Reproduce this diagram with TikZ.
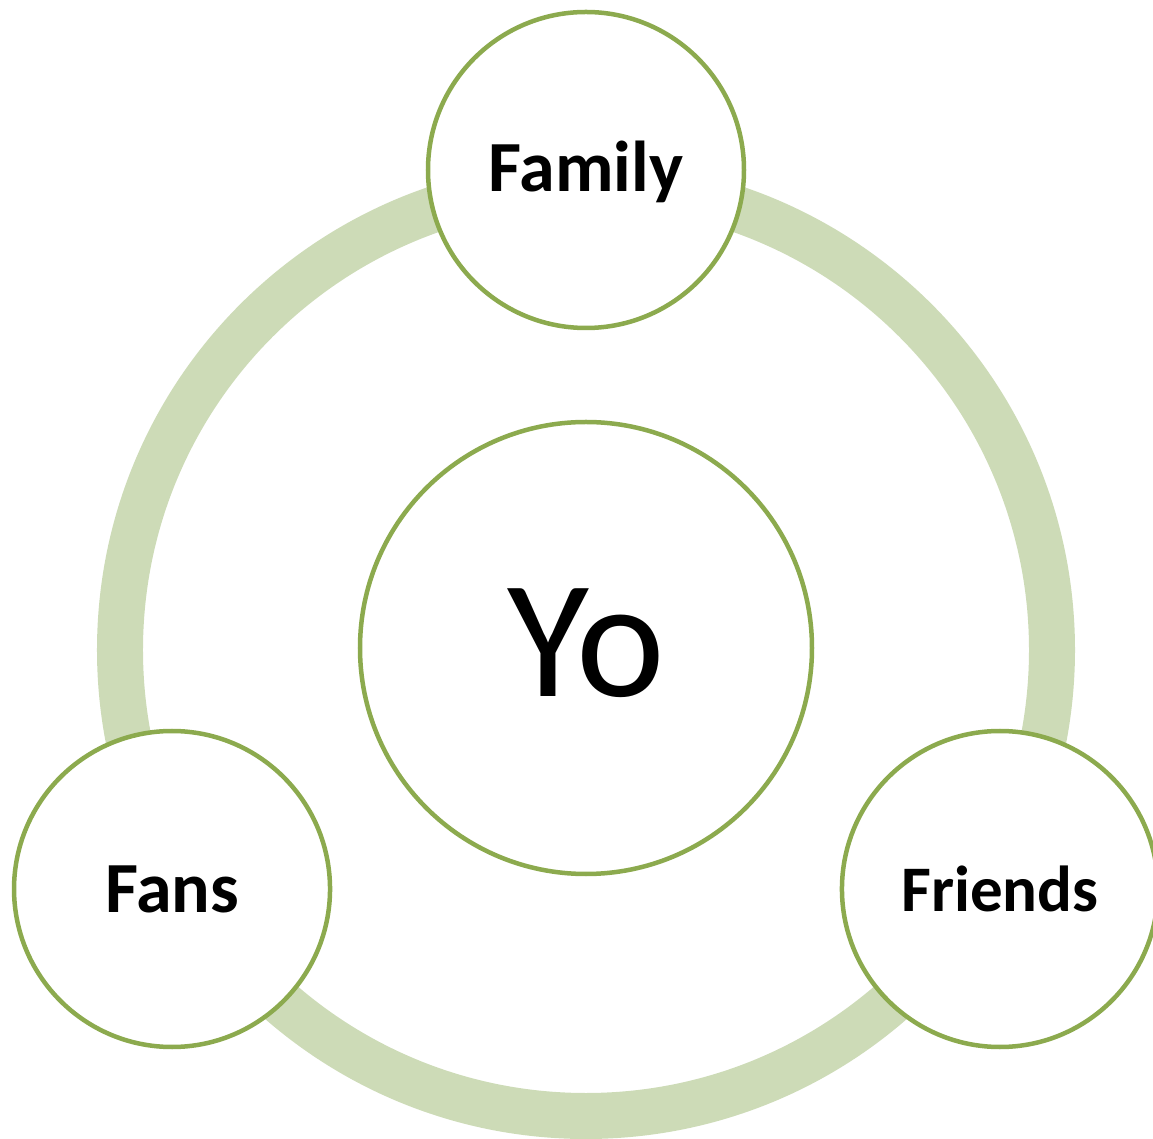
\documentclass[tikz,border=0pt]{standalone}
\usepackage{fontspec}
\setmainfont{Carlito}
\usepackage{xcolor}
\usepackage{tikz}
\usetikzlibrary{positioning}

\definecolor{ringgreen}{HTML}{CDDBB7}
\definecolor{edgegreen}{HTML}{8CAA4E}

\begin{document}
\begin{tikzpicture}[
    x=1pt, y=1pt,
    bubble/.style={circle, draw=edgegreen, line width=4.5pt, fill=white, minimum size=316pt, inner sep=0pt,
        font=\fontsize{72}{86}\selectfont\bfseries},
    core/.style={circle, draw=edgegreen, line width=4.5pt, fill=white, minimum size=452pt, inner sep=0pt,
        font=\fontsize{168}{200}\selectfont},
    ring/.style={draw=ringgreen, line width=46pt}
]
    \clip (-586,-489) rectangle (567,650);
    \useasboundingbox (-586,-489) rectangle (567,650);

    % Ring
    \coordinate (hub) at (0,0);
    \draw [ring] (hub) circle (466);

    % Nodes
    \node [core] (you) at (0,2) {};
    \node (youtext) at (0,7) [font=\fontsize{168}{200}\selectfont] {Yo};
    \node [bubble] (family) at (90:480) {};
    \node at ([yshift=-2pt]family.center) [font=\fontsize{72}{86}\selectfont\bfseries] {Family};
    \node [bubble] (fans) at (210:478) {Fans};
    \node [bubble, font=\fontsize{65}{78}\selectfont\bfseries] (friends) at (330:478) {Friends};
\end{tikzpicture}
\end{document}
